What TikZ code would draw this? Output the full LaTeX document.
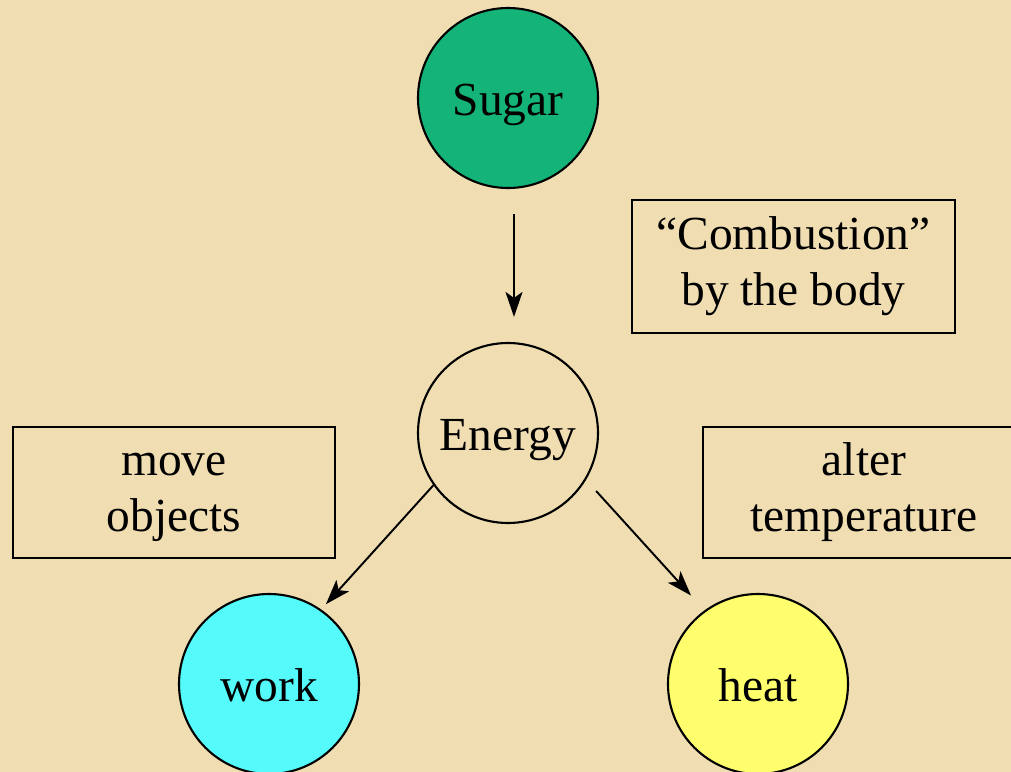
\documentclass[tikz,border=0pt]{standalone}
\usepackage{fontspec}
\setmainfont{Liberation Serif}
\usepackage{xcolor}
\usepackage{tikz}
\usetikzlibrary{arrows.meta,positioning,calc}

\definecolor{bgbeige}{RGB}{240,222,178}
\definecolor{sugargreen}{RGB}{20,180,120}
\definecolor{workcyan}{RGB}{85,250,250}
\definecolor{heatyellow}{RGB}{255,255,110}

\begin{document}
\begin{tikzpicture}[
    font=\fontsize{27}{32}\selectfont,
    blob/.style={circle, draw, line width=1.2pt, minimum size=3.6cm, inner sep=0pt, text height=0.9cm, text depth=0.22cm},
    note/.style={rectangle, draw, line width=1.2pt, minimum width=6.44cm, minimum height=2.62cm, align=center},
    arrow/.style={-{Stealth[length=0.5cm, width=0.34cm, inset=0.12cm]}, line width=1.1pt}
]
    % Fondo
    \useasboundingbox (0,0) rectangle (20.22,-15.44);
    \clip (0,0) rectangle (20.22,-15.44);
    \fill[bgbeige] (0,0) rectangle (20.22,-15.44);

    % Circulos
    \node[blob, fill=sugargreen] (sugar) at (10.16,-1.96) {Sugar};
    \node[blob] (energy) at (10.16,-8.66) {Energy};
    \node[blob, fill=workcyan] (work) at (5.38,-13.68) {work};
    \node[blob, fill=heatyellow] (heat) at (15.16,-13.68) {heat};

    % Cajas
    \node[note, minimum width=6.46cm, minimum height=2.66cm] (combust) at (15.87,-5.33) {\strut``Combustion''\\by the body\strut};
    \node[note] (move) at (3.48,-9.85) {\strut move\\objects\strut};
    \node[note] (alter) at (17.28,-9.85) {\strut alter\\temperature\strut};

    % Flechas
    \draw[arrow, shorten <=0.5cm, shorten >=0.5cm] ([xshift=0.12cm]sugar.south) -- ([xshift=0.12cm]energy.north);
    \draw[arrow, shorten >=0.14cm] (energy.215) -- (work.55);
    \draw[arrow, shorten <=0.3cm, shorten >=0.4cm] (energy.-31) -- (heat.126);
\end{tikzpicture}
\end{document}
